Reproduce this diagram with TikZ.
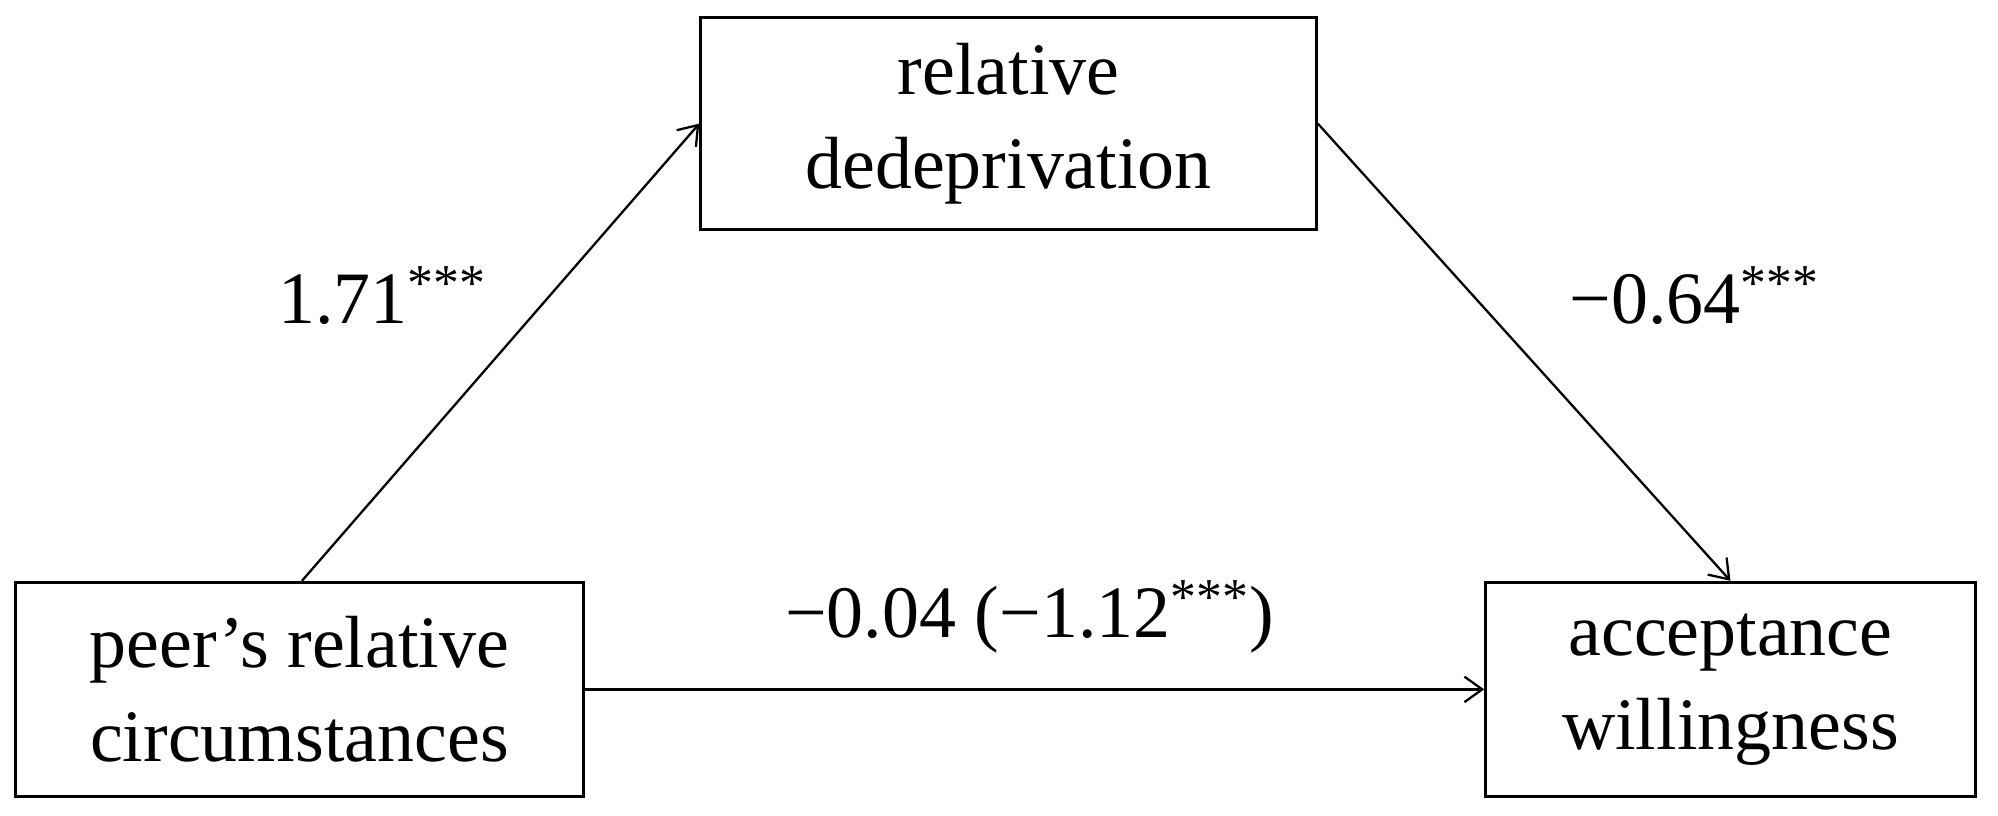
\documentclass[tikz,border=0pt]{standalone}
\usepackage{fontspec}
\setmainfont{Liberation Serif}
\usetikzlibrary{arrows.meta}
\begin{document}
\begin{tikzpicture}[x=0.5pt,y=-0.5pt,
  box/.style={draw,line width=1.2pt,inner sep=0,align=center,font=\fontsize{29}{37}\selectfont},
  lab/.style={font=\fontsize{29}{36}\selectfont},
  arr/.style={-{Straight Barb[length=7pt,width=10pt,line width=0.9pt]},line width=0.9pt}]
\useasboundingbox (0,0) rectangle (1568,640);
\node[box,minimum width=241.5pt,minimum height=83pt] (top) at (791.5,97) {relative\\dedeprivation};
\node[box,minimum width=223pt,minimum height=84pt] (lt) at (235,541) {peer’s relative\\circumstances};
\node[box,minimum width=192pt,minimum height=84pt] (rt) at (1358,541) {acceptance\\willingness};
\draw[arr] ([xshift=1pt]lt.north) -- (top.west);
\draw[arr] (top.east) -- (rt.north);
\draw[arr] (lt.east) -- (rt.west);
\node[lab] (l1) at (300,232) {1.71\textsuperscript{***}};
\node[lab] (l2) at (1330,232) {−0.64\textsuperscript{***}};
\node[lab] (l3) at (808,484) {−0.04 (−1.12\textsuperscript{***})};
\end{tikzpicture}
\end{document}
